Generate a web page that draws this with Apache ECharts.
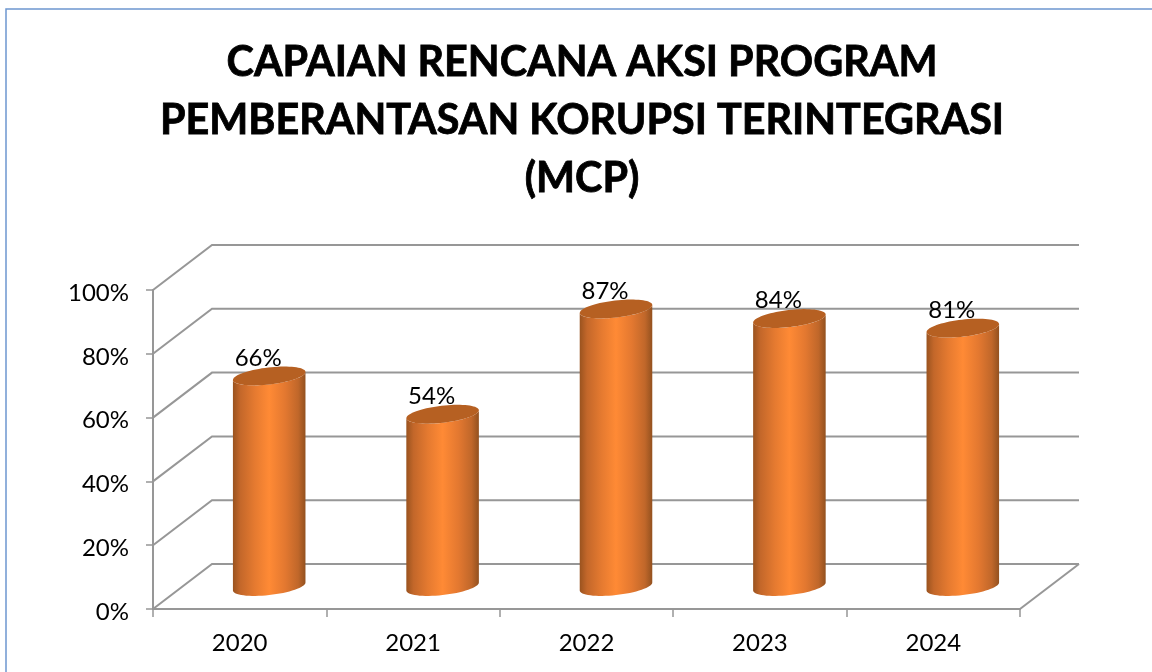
<!DOCTYPE html>
<html>
<head>
<meta charset="utf-8">
<style>html,body{margin:0;padding:0;background:#fff}#c{width:1152px;height:672px}</style>
<script src="https://cdn.jsdelivr.net/npm/echarts@6/dist/echarts.min.js"></script>
</head>
<body>
<div id="c"></div>
<script>
var titleText = 'CAPAIAN RENCANA AKSI PROGRAM\nPEMBERANTASAN KORUPSI TERINTEGRASI\n(MCP)';
var categories = ['2020', '2021', '2022', '2023', '2024'];
var achievement = [66, 54, 87, 84, 81];
var gridLevels = [0, 20, 40, 60, 80, 100];

var FONT = 'Lato, Carlito, sans-serif';
var LINE = '#979797';
var DEPTH_X = 59, DEPTH_Y = -45;   // oblique projection of the 3D wall
var TILT = 6.6 * Math.PI / 180;

function ellipsePoint(cx, cy, a, b, t) {
  return [
    cx + a * Math.cos(t) * Math.cos(TILT) + b * Math.sin(t) * Math.sin(TILT),
    cy - a * Math.cos(t) * Math.sin(TILT) + b * Math.sin(t) * Math.cos(TILT)
  ];
}
function arc(cx, cy, a, b, from, to, n) {
  var pts = [];
  for (var i = 0; i <= n; i++) pts.push(ellipsePoint(cx, cy, a, b, from + (to - from) * i / n));
  return pts;
}

function renderWall(params, api) {
  var cs = params.coordSys;
  var level = api.value(0);
  var y = api.coord([0, level])[1];
  var x0 = cs.x, x1 = cs.x + cs.width;
  var style = { stroke: LINE, lineWidth: 2, fill: null };
  var children = [{
    type: 'polyline',
    shape: { points: [[x0, y], [x0 + DEPTH_X, y + DEPTH_Y], [x1 + DEPTH_X, y + DEPTH_Y]] },
    style: style
  }];
  if (level === 0) {
    children.push({
      type: 'line',
      shape: { x1: x1, y1: y, x2: x1 + DEPTH_X, y2: y + DEPTH_Y },
      style: style
    });
  }
  return { type: 'group', children: children };
}

function renderCylinder(params, api) {
  var i = api.value(0);
  var top = api.coord([i, api.value(1)]);
  var base = api.coord([i, 0]);
  var band = api.size([1, 0])[0];
  var a = band * 0.2105, b = 8.5;
  var cx = top[0] + DEPTH_X / 2;
  var topY = top[1] + DEPTH_Y / 2;
  var baseY = base[1] + DEPTH_Y / 2;
  var t0 = Math.atan2(b * Math.sin(TILT), a * Math.cos(TILT));
  var body = arc(cx, baseY, a, b, t0, t0 + Math.PI, 32)
    .concat(arc(cx, topY, a, b, t0 + Math.PI, t0, 32));
  var lid = arc(cx, topY, a, b, 0, Math.PI * 2, 72);
  return {
    type: 'group',
    children: [{
      type: 'polygon',
      shape: { points: body },
      style: {
        fill: new echarts.graphic.LinearGradient(0, 0, 1, 0, [
          { offset: 0, color: '#9a531f' },
          { offset: 0.1, color: '#c3672a' },
          { offset: 0.3, color: '#e57a30' },
          { offset: 0.5, color: '#ff8a35' },
          { offset: 0.72, color: '#e37830' },
          { offset: 0.9, color: '#c0672a' },
          { offset: 1, color: '#93511f' }
        ])
      }
    }, {
      type: 'polygon',
      shape: { points: lid },
      style: { fill: '#b66022' }
    }, {
      type: 'text',
      style: {
        text: api.value(1) + '%',
        x: cx - 11,
        y: topY - 18,
        align: 'center',
        verticalAlign: 'middle',
        font: '24px ' + FONT,
        fill: '#000'
      },
      z2: 10
    }]
  };
}

var chart = echarts.init(document.getElementById('c'), null, { renderer: 'canvas' });
chart.setOption({
  backgroundColor: '#fff',
  animation: false,
  title: {
    text: titleText,
    left: 577,
    top: 29,
    textAlign: 'center',
    textStyle: {
      fontFamily: FONT, fontWeight: 'bold', fontSize: 41.3, lineHeight: 58, color: '#000',
      textBorderColor: '#000', textBorderWidth: 0.8
    }
  },
  graphic: [{
    type: 'rect',
    silent: true,
    shape: { x: 6, y: 9, width: 1200, height: 720 },
    style: { fill: null, stroke: '#6d97d0', lineWidth: 1.5 }
  }],
  grid: { left: 153, right: 132, top: 290, bottom: 63, containLabel: false },
  xAxis: {
    type: 'category',
    data: categories,
    axisLine: { lineStyle: { color: LINE, width: 2 } },
    axisTick: { show: true, length: 8, lineStyle: { color: LINE, width: 1.5 } },
    axisLabel: { fontFamily: FONT, fontSize: 24, color: '#000', margin: 22 },
    splitLine: { show: false }
  },
  yAxis: {
    type: 'value',
    min: 0,
    max: 100,
    interval: 20,
    axisLine: { show: true, lineStyle: { color: LINE, width: 2 } },
    axisTick: { show: true, length: 7, lineStyle: { color: LINE, width: 1.5 } },
    axisLabel: { fontFamily: FONT, fontSize: 24, color: '#000', margin: 24, verticalAlign: 'top', lineHeight: 6, formatter: '{value}%' },
    splitLine: { show: false }
  },
  series: [{
    type: 'custom',
    name: 'wall',
    coordinateSystem: 'cartesian2d',
    renderItem: renderWall,
    encode: { y: 0 },
    data: gridLevels.map(function (v) { return [v]; }),
    silent: true,
    z: 1
  }, {
    type: 'custom',
    name: 'Capaian',
    coordinateSystem: 'cartesian2d',
    renderItem: renderCylinder,
    encode: { x: 0, y: 1 },
    data: achievement.map(function (v, i) { return [i, v]; }),
    z: 3
  }]
});
</script>
</body>
</html>
